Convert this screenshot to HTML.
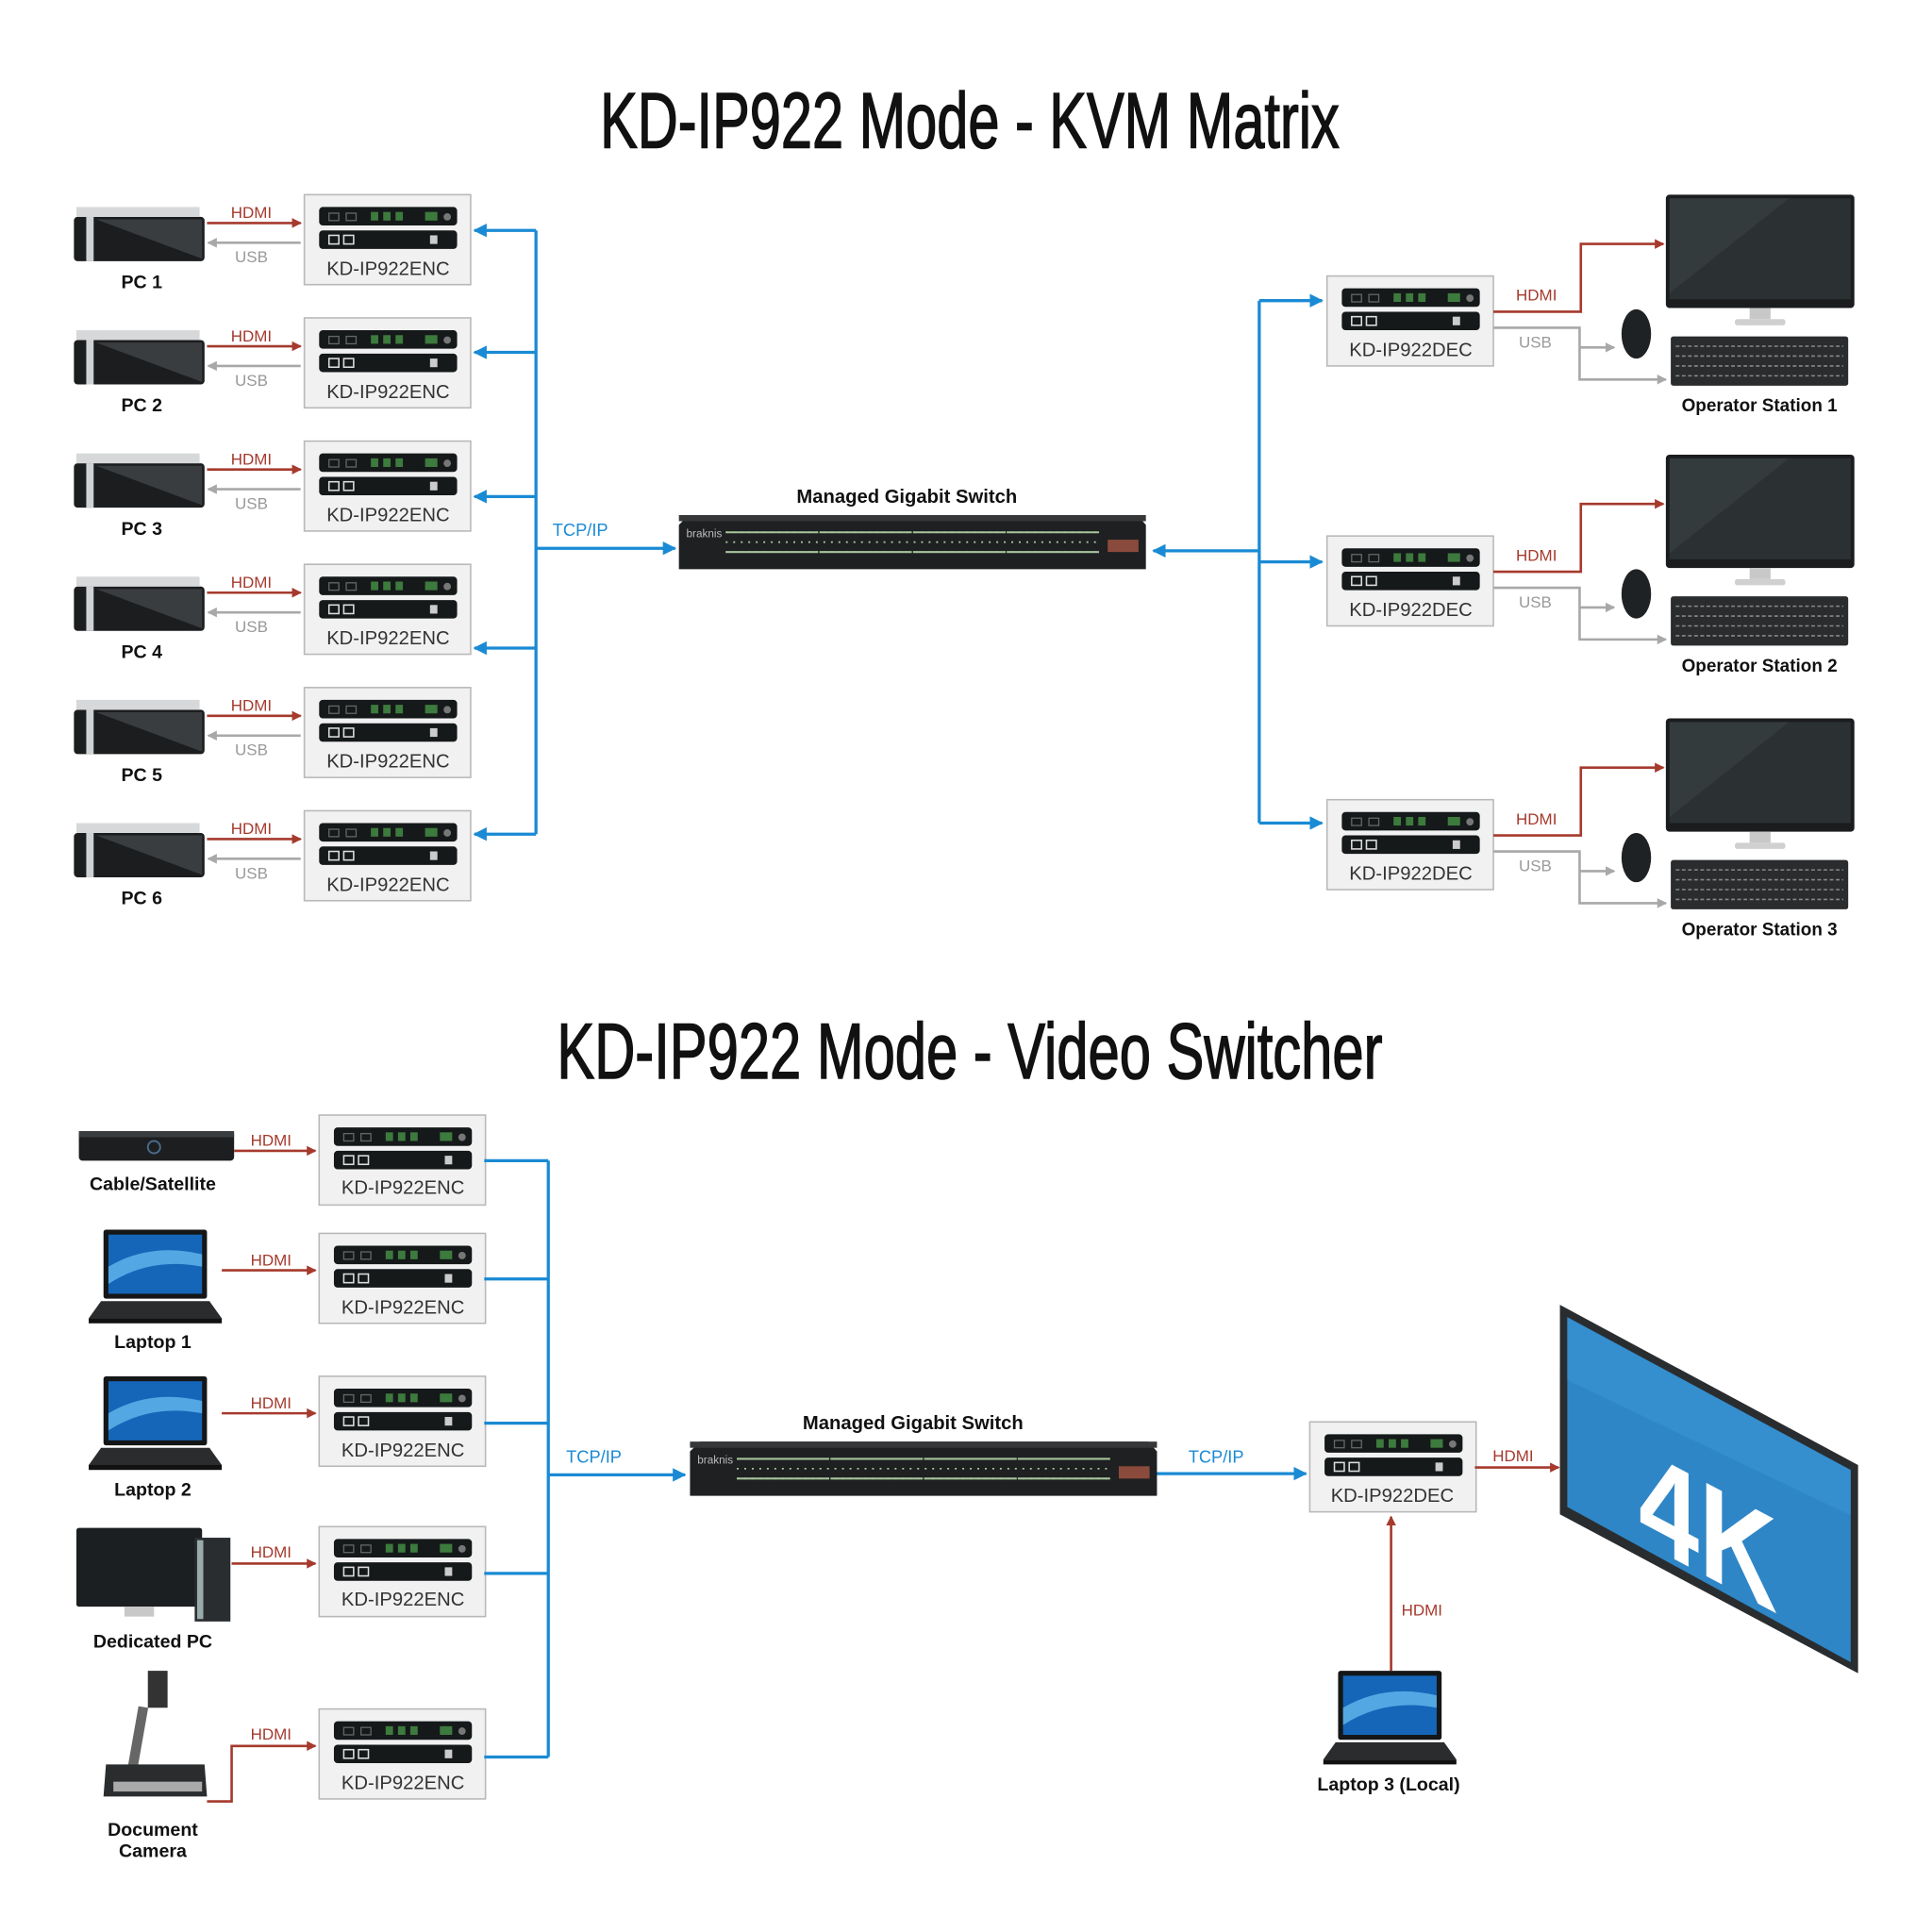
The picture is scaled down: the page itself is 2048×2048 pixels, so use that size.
<!DOCTYPE html>
<html><head><meta charset="utf-8"><style>
html,body{margin:0;padding:0;background:#fff}
svg{display:block}
text{font-family:"Liberation Sans",sans-serif}
</style></head><body>
<svg width="2048" height="2048" viewBox="0 0 1568 1568" xmlns="http://www.w3.org/2000/svg">
<defs>
<marker id="ar" markerWidth="8" markerHeight="8" refX="7" refY="4" orient="auto" markerUnits="userSpaceOnUse"><path d="M0,0 L8,4 L0,8 z" fill="#a53a2d"/></marker>
<marker id="ag" markerWidth="8" markerHeight="8" refX="7" refY="4" orient="auto" markerUnits="userSpaceOnUse"><path d="M0,0 L8,4 L0,8 z" fill="#a8a8a8"/></marker>
<marker id="ab" markerWidth="11" markerHeight="11" refX="10" refY="5.5" orient="auto" markerUnits="userSpaceOnUse"><path d="M0,0 L11,5.5 L0,11 z" fill="#1a8ad4"/></marker>
<g id="unitA">
 <rect x="0" y="0" width="112" height="15" rx="3" fill="#15191a"/>
 <rect x="0" y="19" width="112" height="15" rx="3" fill="#15191a"/>
 <rect x="8" y="5" width="8" height="6" fill="none" stroke="#666" stroke-width="1"/>
 <rect x="22" y="5" width="8" height="6" fill="none" stroke="#666" stroke-width="1"/>
 <rect x="42" y="4" width="6" height="7" fill="#3d7a3d"/><rect x="52" y="4" width="6" height="7" fill="#3d7a3d"/><rect x="62" y="4" width="6" height="7" fill="#3d7a3d"/>
 <rect x="86" y="4" width="10" height="7" fill="#3d7a3d"/><circle cx="104" cy="8" r="3" fill="#777"/>
 <rect x="8" y="23" width="8" height="7" fill="none" stroke="#ddd" stroke-width="1.2"/>
 <rect x="20" y="23" width="8" height="7" fill="none" stroke="#ddd" stroke-width="1.2"/>
 <rect x="90" y="23" width="6" height="7" fill="#ccc"/>
</g>
<g id="encbox">
 <rect x="0" y="0" width="135" height="73" fill="#f1f1f1" stroke="#b8b8b8" stroke-width="1.2"/>
 <use href="#unitA" x="12" y="10"/>
</g>
<g id="pc">
 <rect x="0" y="8" width="106" height="36" rx="3" fill="#1b1d1f"/>
 <rect x="2" y="0" width="100" height="8" fill="#d6d8da"/>
 <rect x="10" y="8" width="6" height="36" fill="#cfd2d4"/>
 <path d="M18,10 L104,42 L104,10z" fill="#3a3d40"/>
</g>
<g id="mon">
 <rect x="0" y="0" width="153" height="92" rx="3" fill="#1a1c1e"/>
 <rect x="3" y="3" width="147" height="82" fill="#2b3133"/>
 <path d="M3,3 L100,3 L3,80z" fill="#343b3d"/>
 <rect x="68" y="92" width="17" height="9" fill="#c8c8c8"/>
 <rect x="56" y="101" width="41" height="5" rx="2" fill="#d0d0d0"/>
 <ellipse cx="-24" cy="113" rx="12" ry="20" fill="#1f2224"/>
 <rect x="4" y="115" width="144" height="40" rx="2" fill="#2a2c2e"/>
 <g stroke="#888" stroke-width="1.2" stroke-dasharray="3,2"><line x1="8" y1="123" x2="144" y2="123"/><line x1="8" y1="131" x2="144" y2="131"/><line x1="8" y1="139" x2="144" y2="139"/><line x1="8" y1="147" x2="144" y2="147"/></g>
</g>
<g id="sw">
 <path d="M0,8 L8,0 L372,0 L379,8 L379,44 L0,44z" fill="#1e2022"/>
 <rect x="0" y="0" width="379" height="5" fill="#353739"/>
 <g fill="none" stroke="#a6c49a" stroke-width="1.6">
  <path d="M38,14 h75 M38,30 h75 M114,14 h75 M114,30 h75 M190,14 h75 M190,30 h75 M266,14 h75 M266,30 h75"/>
 </g>
 <g stroke="#a6c49a" stroke-width="1.4" stroke-dasharray="1.5,4.6">
  <line x1="38" y1="14" x2="341" y2="14"/><line x1="38" y1="22" x2="341" y2="22"/><line x1="38" y1="30" x2="341" y2="30"/>
 </g>
 <rect x="348" y="20" width="25" height="10" fill="#8a4b3c"/>
 <text x="6" y="18" font-size="9" fill="#bbb">braknis</text>
</g>
<g id="lap">
 <rect x="12" y="0" width="84" height="56" rx="2" fill="#141617"/>
 <rect x="16" y="4" width="76" height="48" fill="#1566b8"/>
 <path d="M16,30 Q50,10 92,20 L92,30 Q50,22 16,44z" fill="#6ec3f5" opacity=".7"/>
 <path d="M10,58 L98,58 L108,72 L0,72z" fill="#2a2c2e"/>
 <rect x="0" y="72" width="108" height="4" fill="#111"/>
</g>
</defs>

<text x="787" y="120" font-size="64" text-anchor="middle" textLength="600" lengthAdjust="spacingAndGlyphs" fill="#111" stroke="#111" stroke-width="1.2">KD-IP922 Mode - KVM Matrix</text>
<text x="787" y="875" font-size="64" text-anchor="middle" textLength="670" lengthAdjust="spacingAndGlyphs" fill="#111" stroke="#111" stroke-width="1.2">KD-IP922 Mode - Video Switcher</text>

<g font-size="13">
<g>
 <use href="#pc" x="60" y="168"/>
 <line x1="168" y1="181" x2="244" y2="181" stroke="#a53a2d" stroke-width="2" marker-end="url(#ar)"/>
 <line x1="244" y1="197" x2="169" y2="197" stroke="#a8a8a8" stroke-width="2" marker-end="url(#ag)"/>
 <text x="204" y="177" text-anchor="middle" fill="#a53a2d">HDMI</text>
 <text x="204" y="213" text-anchor="middle" fill="#999">USB</text>
 <use href="#encbox" x="247" y="158"/>
 <text x="315" y="223" text-anchor="middle" font-size="15.5" fill="#333">KD-IP922ENC</text>
 <text x="115" y="234" text-anchor="middle" font-size="15" font-weight="bold" fill="#111">PC 1</text>
</g>
<g transform="translate(0,100)">
 <use href="#pc" x="60" y="168"/>
 <line x1="168" y1="181" x2="244" y2="181" stroke="#a53a2d" stroke-width="2" marker-end="url(#ar)"/>
 <line x1="244" y1="197" x2="169" y2="197" stroke="#a8a8a8" stroke-width="2" marker-end="url(#ag)"/>
 <text x="204" y="177" text-anchor="middle" fill="#a53a2d">HDMI</text><text x="204" y="213" text-anchor="middle" fill="#999">USB</text>
 <use href="#encbox" x="247" y="158"/><text x="315" y="223" text-anchor="middle" font-size="15.5" fill="#333">KD-IP922ENC</text>
 <text x="115" y="234" text-anchor="middle" font-size="15" font-weight="bold" fill="#111">PC 2</text>
</g>
<g transform="translate(0,200)">
 <use href="#pc" x="60" y="168"/>
 <line x1="168" y1="181" x2="244" y2="181" stroke="#a53a2d" stroke-width="2" marker-end="url(#ar)"/>
 <line x1="244" y1="197" x2="169" y2="197" stroke="#a8a8a8" stroke-width="2" marker-end="url(#ag)"/>
 <text x="204" y="177" text-anchor="middle" fill="#a53a2d">HDMI</text><text x="204" y="213" text-anchor="middle" fill="#999">USB</text>
 <use href="#encbox" x="247" y="158"/><text x="315" y="223" text-anchor="middle" font-size="15.5" fill="#333">KD-IP922ENC</text>
 <text x="115" y="234" text-anchor="middle" font-size="15" font-weight="bold" fill="#111">PC 3</text>
</g>
<g transform="translate(0,300)">
 <use href="#pc" x="60" y="168"/>
 <line x1="168" y1="181" x2="244" y2="181" stroke="#a53a2d" stroke-width="2" marker-end="url(#ar)"/>
 <line x1="244" y1="197" x2="169" y2="197" stroke="#a8a8a8" stroke-width="2" marker-end="url(#ag)"/>
 <text x="204" y="177" text-anchor="middle" fill="#a53a2d">HDMI</text><text x="204" y="213" text-anchor="middle" fill="#999">USB</text>
 <use href="#encbox" x="247" y="158"/><text x="315" y="223" text-anchor="middle" font-size="15.5" fill="#333">KD-IP922ENC</text>
 <text x="115" y="234" text-anchor="middle" font-size="15" font-weight="bold" fill="#111">PC 4</text>
</g>
<g transform="translate(0,400)">
 <use href="#pc" x="60" y="168"/>
 <line x1="168" y1="181" x2="244" y2="181" stroke="#a53a2d" stroke-width="2" marker-end="url(#ar)"/>
 <line x1="244" y1="197" x2="169" y2="197" stroke="#a8a8a8" stroke-width="2" marker-end="url(#ag)"/>
 <text x="204" y="177" text-anchor="middle" fill="#a53a2d">HDMI</text><text x="204" y="213" text-anchor="middle" fill="#999">USB</text>
 <use href="#encbox" x="247" y="158"/><text x="315" y="223" text-anchor="middle" font-size="15.5" fill="#333">KD-IP922ENC</text>
 <text x="115" y="234" text-anchor="middle" font-size="15" font-weight="bold" fill="#111">PC 5</text>
</g>
<g transform="translate(0,500)">
 <use href="#pc" x="60" y="168"/>
 <line x1="168" y1="181" x2="244" y2="181" stroke="#a53a2d" stroke-width="2" marker-end="url(#ar)"/>
 <line x1="244" y1="197" x2="169" y2="197" stroke="#a8a8a8" stroke-width="2" marker-end="url(#ag)"/>
 <text x="204" y="177" text-anchor="middle" fill="#a53a2d">HDMI</text><text x="204" y="213" text-anchor="middle" fill="#999">USB</text>
 <use href="#encbox" x="247" y="158"/><text x="315" y="223" text-anchor="middle" font-size="15.5" fill="#333">KD-IP922ENC</text>
 <text x="115" y="234" text-anchor="middle" font-size="15" font-weight="bold" fill="#111">PC 6</text>
</g>
</g>

<g stroke="#1a8ad4" stroke-width="2.5" fill="none">
 <line x1="435" y1="187" x2="435" y2="677"/>
 <line x1="435" y1="187" x2="385" y2="187" marker-end="url(#ab)"/>
 <line x1="435" y1="286" x2="385" y2="286" marker-end="url(#ab)"/>
 <line x1="435" y1="403" x2="385" y2="403" marker-end="url(#ab)"/>
 <line x1="435" y1="526" x2="385" y2="526" marker-end="url(#ab)"/>
 <line x1="435" y1="677" x2="385" y2="677" marker-end="url(#ab)"/>
 <line x1="435" y1="445" x2="548" y2="445" marker-end="url(#ab)"/>
 <line x1="1022" y1="447" x2="936" y2="447" marker-end="url(#ab)"/>
 <line x1="1022" y1="244" x2="1022" y2="668"/>
 <line x1="1022" y1="244" x2="1073" y2="244" marker-end="url(#ab)"/>
 <line x1="1022" y1="456" x2="1073" y2="456" marker-end="url(#ab)"/>
 <line x1="1022" y1="668" x2="1073" y2="668" marker-end="url(#ab)"/>
</g>
<text x="471" y="435" font-size="14" text-anchor="middle" fill="#1a8ad4">TCP/IP</text>
<use href="#sw" x="551" y="418"/>
<text x="736" y="408" font-size="15.5" font-weight="bold" text-anchor="middle" fill="#111">Managed Gigabit Switch</text>

<g>
 <use href="#encbox" x="1077" y="224"/>
 <text x="1145" y="289" text-anchor="middle" font-size="15.5" fill="#333">KD-IP922DEC</text>
 <polyline points="1212,253 1283,253 1283,198 1350,198" fill="none" stroke="#a53a2d" stroke-width="2" marker-end="url(#ar)"/>
 <polyline points="1212,266 1282,266 1282,308 1352,308" fill="none" stroke="#a8a8a8" stroke-width="2" marker-end="url(#ag)"/>
 <line x1="1282" y1="282" x2="1310" y2="282" stroke="#a8a8a8" stroke-width="2" marker-end="url(#ag)"/>
 <text x="1247" y="244" font-size="13" text-anchor="middle" fill="#a53a2d">HDMI</text>
 <text x="1246" y="282" font-size="13" text-anchor="middle" fill="#999">USB</text>
 <use href="#mon" x="1352" y="158"/>
 <text x="1428" y="334" font-size="14.5" font-weight="bold" text-anchor="middle" fill="#111">Operator Station 1</text>
</g>
<g transform="translate(0,211)">
 <use href="#encbox" x="1077" y="224"/>
 <text x="1145" y="289" text-anchor="middle" font-size="15.5" fill="#333">KD-IP922DEC</text>
 <polyline points="1212,253 1283,253 1283,198 1350,198" fill="none" stroke="#a53a2d" stroke-width="2" marker-end="url(#ar)"/>
 <polyline points="1212,266 1282,266 1282,308 1352,308" fill="none" stroke="#a8a8a8" stroke-width="2" marker-end="url(#ag)"/>
 <line x1="1282" y1="282" x2="1310" y2="282" stroke="#a8a8a8" stroke-width="2" marker-end="url(#ag)"/>
 <text x="1247" y="244" font-size="13" text-anchor="middle" fill="#a53a2d">HDMI</text>
 <text x="1246" y="282" font-size="13" text-anchor="middle" fill="#999">USB</text>
 <use href="#mon" x="1352" y="158"/>
 <text x="1428" y="334" font-size="14.5" font-weight="bold" text-anchor="middle" fill="#111">Operator Station 2</text>
</g>
<g transform="translate(0,425)">
 <use href="#encbox" x="1077" y="224"/>
 <text x="1145" y="289" text-anchor="middle" font-size="15.5" fill="#333">KD-IP922DEC</text>
 <polyline points="1212,253 1283,253 1283,198 1350,198" fill="none" stroke="#a53a2d" stroke-width="2" marker-end="url(#ar)"/>
 <polyline points="1212,266 1282,266 1282,308 1352,308" fill="none" stroke="#a8a8a8" stroke-width="2" marker-end="url(#ag)"/>
 <line x1="1282" y1="282" x2="1310" y2="282" stroke="#a8a8a8" stroke-width="2" marker-end="url(#ag)"/>
 <text x="1247" y="244" font-size="13" text-anchor="middle" fill="#a53a2d">HDMI</text>
 <text x="1246" y="282" font-size="13" text-anchor="middle" fill="#999">USB</text>
 <use href="#mon" x="1352" y="158"/>
 <text x="1428" y="334" font-size="14.5" font-weight="bold" text-anchor="middle" fill="#111">Operator Station 3</text>
</g>

<g font-size="13">
 <rect x="64" y="918" width="126" height="24" rx="3" fill="#1c1e20"/>
 <rect x="64" y="918" width="126" height="5" fill="#3a3d40"/>
 <circle cx="125" cy="931" r="5" fill="none" stroke="#4a6a8a" stroke-width="1.5"/>
 <text x="124" y="966" text-anchor="middle" font-size="15" font-weight="bold" fill="#111">Cable/Satellite</text>
 <use href="#lap" x="72" y="998"/>
 <text x="124" y="1094" text-anchor="middle" font-size="15" font-weight="bold" fill="#111">Laptop 1</text>
 <use href="#lap" x="72" y="1117"/>
 <text x="124" y="1214" text-anchor="middle" font-size="15" font-weight="bold" fill="#111">Laptop 2</text>
 <rect x="62" y="1240" width="102" height="64" rx="2" fill="#1c1f21"/>
 <rect x="101" y="1304" width="24" height="8" fill="#c8c8c8"/>
 <rect x="158" y="1248" width="29" height="68" fill="#2a2d30"/><rect x="160" y="1250" width="5" height="64" fill="#9aa"/>
 <text x="124" y="1337" text-anchor="middle" font-size="15" font-weight="bold" fill="#111">Dedicated PC</text>
 <rect x="120" y="1356" width="16" height="30" fill="#333"/>
 <rect x="108" y="1385" width="8" height="50" fill="#666" transform="rotate(10 112 1410)"/>
 <path d="M86,1432 L166,1432 L168,1458 L84,1458z" fill="#2a2c2e"/>
 <rect x="92" y="1446" width="72" height="8" fill="#aaa"/>
 <text x="124" y="1490" text-anchor="middle" font-size="15" font-weight="bold" fill="#111">Document</text>
 <text x="124" y="1507" text-anchor="middle" font-size="15" font-weight="bold" fill="#111">Camera</text>

 <line x1="190" y1="934" x2="256" y2="934" stroke="#a53a2d" stroke-width="2" marker-end="url(#ar)"/>
 <line x1="180" y1="1031" x2="256" y2="1031" stroke="#a53a2d" stroke-width="2" marker-end="url(#ar)"/>
 <line x1="180" y1="1147" x2="256" y2="1147" stroke="#a53a2d" stroke-width="2" marker-end="url(#ar)"/>
 <line x1="188" y1="1269" x2="256" y2="1269" stroke="#a53a2d" stroke-width="2" marker-end="url(#ar)"/>
 <polyline points="168,1462 188,1462 188,1417 256,1417" fill="none" stroke="#a53a2d" stroke-width="2" marker-end="url(#ar)"/>
 <text x="220" y="930" text-anchor="middle" fill="#a53a2d">HDMI</text>
 <text x="220" y="1027" text-anchor="middle" fill="#a53a2d">HDMI</text>
 <text x="220" y="1143" text-anchor="middle" fill="#a53a2d">HDMI</text>
 <text x="220" y="1264" text-anchor="middle" fill="#a53a2d">HDMI</text>
 <text x="220" y="1412" text-anchor="middle" fill="#a53a2d">HDMI</text>

 <use href="#encbox" x="259" y="905"/><text x="327" y="969" text-anchor="middle" font-size="15.5" fill="#333">KD-IP922ENC</text>
 <use href="#encbox" x="259" y="1001"/><text x="327" y="1066" text-anchor="middle" font-size="15.5" fill="#333">KD-IP922ENC</text>
 <use href="#encbox" x="259" y="1117"/><text x="327" y="1182" text-anchor="middle" font-size="15.5" fill="#333">KD-IP922ENC</text>
 <use href="#encbox" x="259" y="1239"/><text x="327" y="1303" text-anchor="middle" font-size="15.5" fill="#333">KD-IP922ENC</text>
 <use href="#encbox" x="259" y="1387"/><text x="327" y="1452" text-anchor="middle" font-size="15.5" fill="#333">KD-IP922ENC</text>
</g>
<g stroke="#1a8ad4" stroke-width="2.5" fill="none">
 <line x1="445" y1="942" x2="445" y2="1426"/>
 <line x1="393" y1="942" x2="445" y2="942"/>
 <line x1="393" y1="1038" x2="445" y2="1038"/>
 <line x1="393" y1="1155" x2="445" y2="1155"/>
 <line x1="393" y1="1277" x2="445" y2="1277"/>
 <line x1="393" y1="1426" x2="445" y2="1426"/>
 <line x1="445" y1="1197" x2="556" y2="1197" marker-end="url(#ab)"/>
 <line x1="935" y1="1196" x2="1060" y2="1196" marker-end="url(#ab)"/>
</g>
<text x="482" y="1187" font-size="14" text-anchor="middle" fill="#1a8ad4">TCP/IP</text>
<text x="987" y="1187" font-size="14" text-anchor="middle" fill="#1a8ad4">TCP/IP</text>
<use href="#sw" x="560" y="1170"/>
<text x="741" y="1160" font-size="15.5" font-weight="bold" text-anchor="middle" fill="#111">Managed Gigabit Switch</text>
<use href="#encbox" x="1063" y="1154"/>
<text x="1130" y="1219" text-anchor="middle" font-size="15.5" fill="#333">KD-IP922DEC</text>
<line x1="1197" y1="1191" x2="1265" y2="1191" stroke="#a53a2d" stroke-width="2" marker-end="url(#ar)"/>
<text x="1228" y="1186" font-size="13" text-anchor="middle" fill="#a53a2d">HDMI</text>
<line x1="1129" y1="1356" x2="1129" y2="1231" stroke="#a53a2d" stroke-width="2" marker-end="url(#ar)"/>
<text x="1154" y="1311" font-size="13" text-anchor="middle" fill="#a53a2d">HDMI</text>
<use href="#lap" x="1074" y="1356"/>
<text x="1127" y="1453" font-size="15" font-weight="bold" text-anchor="middle" fill="#111">Laptop 3 (Local)</text>

<path d="M1266,1059 L1508,1189 L1508,1358 L1266,1229z" fill="#2a2d30"/>
<path d="M1272,1069 L1502,1193 L1502,1349 L1272,1223z" fill="#2e86c6"/>
<path d="M1272,1069 L1502,1193 L1502,1230 L1272,1120z" fill="#3b95d3" opacity=".6"/>
<text x="0" y="0" font-size="110" font-weight="bold" fill="#fff" transform="translate(1330,1250) skewY(28) scale(0.8,1)">4K</text>
</svg>
</body></html>
